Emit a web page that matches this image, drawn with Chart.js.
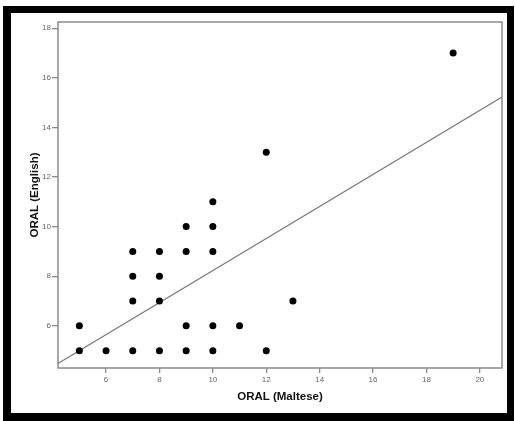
<!DOCTYPE html>
<html>
<head>
<meta charset="utf-8">
<script src="https://cdn.jsdelivr.net/npm/chart.js@4/dist/chart.umd.min.js"></script>
<style>
  html, body { margin: 0; padding: 0; background: #fff; }
  body { width: 515px; height: 421px; position: relative; overflow: hidden; }
  #frame {
    position: absolute; left: 3px; top: 6px; width: 511px; height: 415px;
    border: 8px solid #000; border-top-width: 7px; border-right-width: 7px;
    box-sizing: border-box; background: #fff;
  }
  #wrap { position: absolute; left: 0; top: 0; width: 496px; height: 400px; }
</style>
</head>
<body>
<div id="frame"><div id="wrap"><canvas id="scatter"></canvas></div></div>
<script>
"use strict";

// ORAL scores, one entry per student
const oralMaltese = [5, 5, 6, 7, 7, 7, 7, 8, 8, 8, 8, 9, 9, 9, 9, 10, 10, 10, 10, 10, 11, 12, 12, 13, 19];
const oralEnglish = [5, 6, 5, 5, 7, 8, 9, 5, 7, 8, 9, 5, 6, 9, 10, 5, 6, 9, 10, 11, 6, 5, 13, 7, 17];

// fitted line: English = intercept + slope * Maltese
const fitIntercept = 1.77;
const fitSlope = 0.646;

const xTickValues = [6, 8, 10, 12, 14, 16, 18, 20];
const yTickValues = [6, 8, 10, 12, 14, 16, 18];
const xRange = [4.2, 20.83];
const yRange = [4.3, 18.25];

const axisGray = '#8a8a8a';
const tickGray = '#666';

const points = oralMaltese.map((x, i) => ({ x, y: oralEnglish[i] }));
const fitLine = xRange.map(x => ({ x, y: fitIntercept + fitSlope * x }));

// box around the whole plot area
const plotFrame = {
    id: 'plotFrame',
    afterDraw(chart) {
        const { ctx, chartArea: a } = chart;
        ctx.save();
        ctx.strokeStyle = axisGray;
        ctx.lineWidth = 1.5;
        ctx.strokeRect(a.left, a.top, a.right - a.left, a.bottom - a.top);
        ctx.restore();
    }
};

const tickFont = { family: 'Arial, "Liberation Sans", sans-serif', size: 8 };
const titleFont = { family: 'Arial, "Liberation Sans", sans-serif', size: 11.5, weight: 'bold' };

new Chart(document.getElementById('scatter'), {
    type: 'scatter',
    data: {
        datasets: [
            {
                label: 'ORAL',
                data: points,
                pointRadius: 3.5,
                pointHoverRadius: 3.5,
                backgroundColor: '#000',
                borderColor: '#000',
                borderWidth: 0
            },
            {
                label: 'Fit',
                type: 'line',
                data: fitLine,
                borderColor: '#7a7a7a',
                borderWidth: 1.2,
                pointRadius: 0,
                fill: false
            }
        ]
    },
    options: {
        responsive: true,
        maintainAspectRatio: false,
        animation: false,
        layout: { padding: { top: 9, right: 5, left: 0, bottom: 0 } },
        plugins: { legend: { display: false }, tooltip: { enabled: false } },
        scales: {
            x: {
                type: 'linear',
                min: xRange[0],
                max: xRange[1],
                afterBuildTicks: scale => { scale.ticks = xTickValues.map(value => ({ value })); },
                afterFit: scale => { scale.height = 45; },
                border: { display: false },
                grid: { drawOnChartArea: false, drawTicks: true, tickLength: 5, tickColor: axisGray, lineWidth: 1.3 },
                ticks: { color: tickGray, font: tickFont, padding: 2, maxRotation: 0 },
                title: { display: true, text: 'ORAL (Maltese)', color: '#111', font: titleFont, padding: { top: 0, bottom: 9 } }
            },
            y: {
                type: 'linear',
                min: yRange[0],
                max: yRange[1],
                afterBuildTicks: scale => { scale.ticks = yTickValues.map(value => ({ value })); },
                afterFit: scale => { scale.width = 47; },
                border: { display: false },
                grid: { drawOnChartArea: false, drawTicks: true, tickLength: 6, tickColor: axisGray, lineWidth: 1.3 },
                ticks: { color: tickGray, font: tickFont, padding: 1 },
                title: { display: true, text: 'ORAL (English)', color: '#111', font: titleFont, padding: { top: 17, bottom: 0 } }
            }
        }
    },
    plugins: [plotFrame]
});
</script>
</body>
</html>
